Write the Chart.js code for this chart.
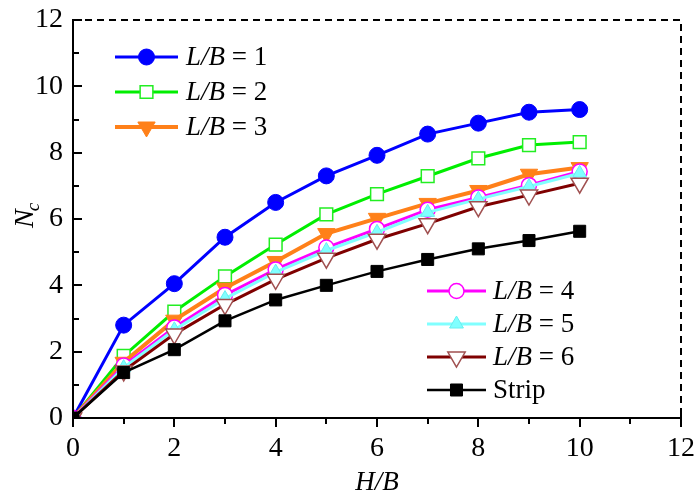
<!DOCTYPE html>
<html><head><meta charset="utf-8">
<script src="https://cdn.jsdelivr.net/npm/chart.js@4"></script>
<style>html,body{margin:0;padding:0;background:#fff}#wrap{width:696px;height:499px;position:relative}</style>
</head><body><div id="wrap"><canvas id="c"></canvas></div>
<script>
// H/B ratios and bearing capacity factor Nc for each footing aspect ratio
const hb = [0, 1, 2, 3, 4, 5, 6, 7, 8, 9, 10];
const ncLB1 = [0, 2.80, 4.05, 5.45, 6.50, 7.30, 7.92, 8.56, 8.89, 9.22, 9.30];
const ncLB2 = [0, 1.87, 3.21, 4.27, 5.23, 6.14, 6.75, 7.29, 7.83, 8.23, 8.32];
const ncLB3 = [0, 1.68, 2.95, 3.92, 4.72, 5.56, 6.02, 6.47, 6.86, 7.35, 7.55];
const ncLB4 = [0, 1.58, 2.73, 3.71, 4.48, 5.14, 5.70, 6.28, 6.65, 7.02, 7.43];
const ncLB5 = [0, 1.52, 2.66, 3.60, 4.40, 5.05, 5.60, 6.20, 6.60, 6.98, 7.38];
const ncLB6 = [0, 1.42, 2.53, 3.42, 4.18, 4.82, 5.39, 5.86, 6.37, 6.72, 7.08];
const ncStrip = [0, 1.37, 2.06, 2.93, 3.56, 4.00, 4.42, 4.78, 5.10, 5.35, 5.63];
const seriesNames = ['L/B = 1', 'L/B = 2', 'L/B = 3', 'L/B = 4', 'L/B = 5', 'L/B = 6', 'Strip'];
const xTickLabels = ['0', '2', '4', '6', '8', '10', '12'];
const yTickLabels = ['0', '2', '4', '6', '8', '10', '12'];

const SERIF = '"Liberation Serif", serif';

function pts(ys) { return hb.map((x, i) => ({ x: x, y: ys[i] })); }

const datasets = [
  { label: seriesNames[0], data: pts(ncLB1), borderColor: '#0000ff', backgroundColor: '#0000ff',
    borderWidth: 3, pointStyle: 'circle', pointRadius: 8, pointBorderWidth: 1, pointBorderColor: '#0000ff', pointBackgroundColor: '#0000ff', order: 7 },
  { label: seriesNames[1], data: pts(ncLB2), borderColor: '#00ee00', backgroundColor: '#ffffff',
    borderWidth: 3, pointStyle: 'rect', pointRadius: 9, pointBorderWidth: 1.5, pointBorderColor: '#22ee22', pointBackgroundColor: '#ffffff', order: 6 },
  { label: seriesNames[2], data: pts(ncLB3), borderColor: '#ff8019', backgroundColor: '#ff8019',
    borderWidth: 4, pointStyle: 'triangle', pointRotation: 180, pointRadius: 10, pointBorderWidth: 1, pointBorderColor: '#ff8019', pointBackgroundColor: '#ff8019', order: 5 },
  { label: seriesNames[3], data: pts(ncLB4), borderColor: '#ff00ff', backgroundColor: '#ffffff',
    borderWidth: 3, pointStyle: 'circle', pointRadius: 7.5, pointBorderWidth: 1.5, pointBorderColor: '#ff00ff', pointBackgroundColor: '#ffffff', order: 4 },
  { label: seriesNames[4], data: pts(ncLB5), borderColor: '#80ffff', backgroundColor: '#80ffff',
    borderWidth: 3, pointStyle: 'triangle', pointRadius: 8, pointBorderWidth: 1, pointBorderColor: '#66f0f0', pointBackgroundColor: '#80ffff', order: 3 },
  { label: seriesNames[5], data: pts(ncLB6), borderColor: '#7f0000', backgroundColor: '#ffffff',
    borderWidth: 3, pointStyle: 'triangle', pointRotation: 180, pointRadius: 10, pointBorderWidth: 1.5, pointBorderColor: '#a05050', pointBackgroundColor: '#ffffff', order: 2 },
  { label: seriesNames[6], data: pts(ncStrip), borderColor: '#000000', backgroundColor: '#000000',
    borderWidth: 2.5, pointStyle: 'rect', pointRadius: 8.5, pointBorderWidth: 1, pointBorderColor: '#000000', pointBackgroundColor: '#000000', order: 1 }
];

// Axes frame: solid left/bottom axes with ticks, dashed top/right
const framePlugin = {
  id: 'frame',
  afterDraw(chart) {
    const ctx = chart.ctx, a = chart.chartArea;
    const xs = chart.scales.x, ys = chart.scales.y;
    ctx.save();
    ctx.strokeStyle = '#000';
    ctx.lineWidth = 2;
    ctx.setLineDash([7, 5]);
    ctx.beginPath();
    ctx.moveTo(a.left, a.top); ctx.lineTo(a.right, a.top); ctx.lineTo(a.right, a.bottom);
    ctx.stroke();
    ctx.setLineDash([]);
    ctx.beginPath();
    ctx.moveTo(a.left, a.top - 1); ctx.lineTo(a.left, a.bottom); ctx.lineTo(a.right + 1, a.bottom);
    ctx.stroke();
    ctx.beginPath();
    for (let v = 0; v <= 12; v++) {
      const px = Math.round(xs.getPixelForValue(v));
      const len = v % 2 === 0 ? 9 : 6;
      ctx.moveTo(px, a.bottom); ctx.lineTo(px, a.bottom + len);
      const py = Math.round(ys.getPixelForValue(v));
      ctx.moveTo(a.left, py); ctx.lineTo(a.left + len, py);
    }
    ctx.moveTo(a.right, a.bottom); ctx.lineTo(a.right, a.bottom - 9);
    ctx.stroke();

    // axis titles
    ctx.fillStyle = '#000';
    ctx.font = 'italic 27px ' + SERIF;
    ctx.textAlign = 'center';
    ctx.textBaseline = 'alphabetic';
    ctx.fillText('H/B', (a.left + a.right) / 2, 490);
    ctx.translate(33, 216);
    ctx.rotate(-Math.PI / 2);
    ctx.textAlign = 'left';
    ctx.font = 'italic 28px ' + SERIF;
    ctx.fillText('N', -12, 0);
    const nw = ctx.measureText('N').width;
    ctx.font = 'italic 19px ' + SERIF;
    ctx.fillText('c', -12 + nw - 2, 6);
    ctx.restore();
  }
};

// Two legend blocks drawn with the same styles as the datasets
function drawMarker(ctx, ds, x, y) {
  Chart.helpers.drawPoint(ctx, {
    pointStyle: ds.pointStyle, rotation: ds.pointRotation || 0, radius: ds.pointRadius, borderWidth: ds.pointBorderWidth
  }, x, y);
}
const legendPlugin = {
  id: 'twoLegends',
  afterDraw(chart) {
    const ctx = chart.ctx;
    const blocks = [
      { idx: [0, 1, 2], x0: 115, x1: 178, tx: 186, y0: 57, dy: 35 },
      { idx: [3, 4, 5, 6], x0: 427, x1: 486, tx: 493, y0: 291, dy: 33 }
    ];
    ctx.save();
    blocks.forEach(b => {
      b.idx.forEach((di, k) => {
        const ds = chart.data.datasets[di];
        const y = b.y0 + k * b.dy;
        ctx.strokeStyle = ds.borderColor;
        ctx.lineWidth = ds.borderWidth;
        ctx.beginPath(); ctx.moveTo(b.x0, y); ctx.lineTo(b.x1, y); ctx.stroke();
        ctx.strokeStyle = ds.pointBorderColor;
        ctx.fillStyle = ds.pointBackgroundColor;
        ctx.lineWidth = ds.pointBorderWidth;
        drawMarker(ctx, ds, (b.x0 + b.x1) / 2, y);
        ctx.fillStyle = '#000';
        ctx.textBaseline = 'middle';
        ctx.textAlign = 'left';
        const name = ds.label;
        if (name.startsWith('L/B')) {
          ctx.font = 'italic 27px ' + SERIF;
          ctx.fillText('L/B', b.tx, y + 1);
          const w = ctx.measureText('L/B').width;
          ctx.font = '27px ' + SERIF;
          ctx.fillText(name.slice(3), b.tx + w, y + 1);
        } else {
          ctx.font = '27px ' + SERIF;
          ctx.fillText(name, b.tx, y + 1);
        }
      });
    });
    ctx.restore();
  }
};

function build() {
  new Chart(document.getElementById('c'), {
    type: 'line',
    data: { datasets: datasets },
    plugins: [framePlugin, legendPlugin],
    options: {
      responsive: true,
      maintainAspectRatio: false,
      animation: false,
      layout: { padding: { left: 0, top: 20, right: 15, bottom: 0 } },
      plugins: { legend: { display: false }, tooltip: { enabled: false } },
      elements: { line: { tension: 0 } },
      scales: {
        x: {
          type: 'linear', min: 0, max: 12,
          afterFit(s) { s.height = 81; s.paddingLeft = 0; s.paddingRight = 0; },
          afterBuildTicks(s) { s.ticks = xTickLabels.map(t => ({ value: +t })); },
          grid: { display: false, drawTicks: false },
          border: { display: false },
          ticks: { color: '#000', font: { family: SERIF, size: 28 }, padding: 14, maxRotation: 0,
            callback: (v) => xTickLabels.includes(String(v)) ? String(v) : '' }
        },
        y: {
          type: 'linear', min: 0, max: 12,
          afterFit(s) { s.width = 73; s.paddingTop = 0; s.paddingBottom = 0; },
          afterBuildTicks(s) { s.ticks = yTickLabels.map(t => ({ value: +t })); },
          grid: { display: false, drawTicks: false },
          border: { display: false },
          ticks: { color: '#000', font: { family: SERIF, size: 28 }, padding: 10,
            callback: (v) => yTickLabels.includes(String(v)) ? String(v) : '' }
        }
      }
    }
  });
}
Promise.all([
  document.fonts.load('28px "Liberation Serif"'),
  document.fonts.load('italic 28px "Liberation Serif"')
]).then(build, build);
</script>
</body></html>
